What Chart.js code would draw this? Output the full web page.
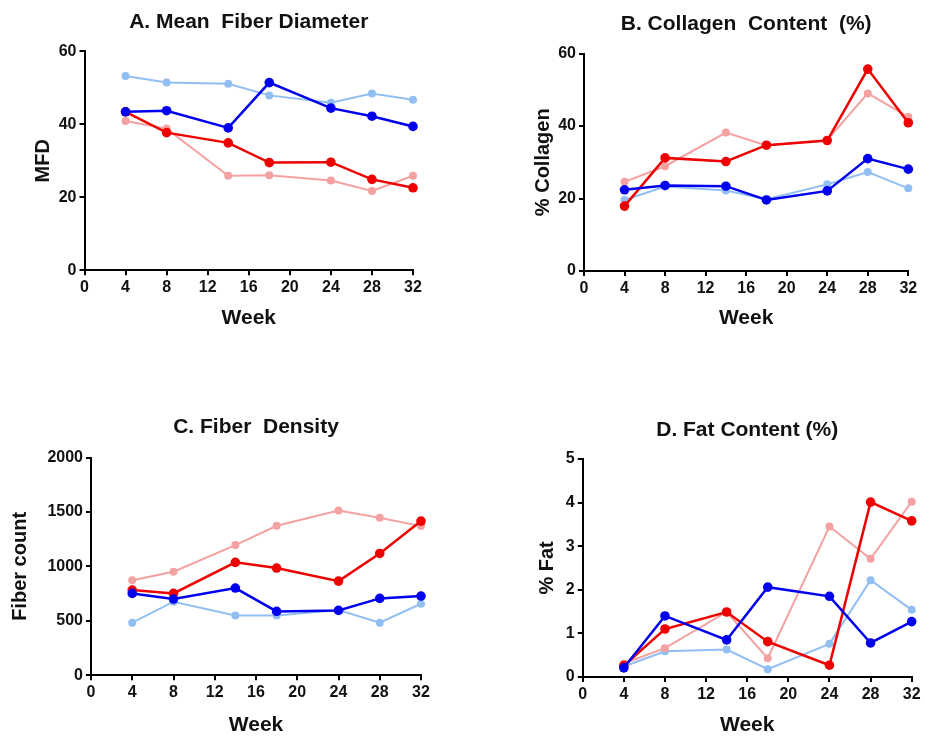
<!DOCTYPE html>
<html>
<head>
<meta charset="utf-8">
<script src="https://cdn.jsdelivr.net/npm/chart.js@4/dist/chart.umd.min.js"></script>
<style>
  html, body { margin: 0; padding: 0; background: #fff; }
  body { width: 925px; height: 739px; position: relative; overflow: hidden; }
  .panel { position: absolute; }
</style>
</head>
<body>
<div class="panel" id="pA" style="left:0px;top:0px;width:460px;height:340px"><canvas id="cA"></canvas></div>
<div class="panel" id="pB" style="left:460px;top:0px;width:465px;height:340px"><canvas id="cB"></canvas></div>
<div class="panel" id="pC" style="left:0px;top:400px;width:460px;height:339px"><canvas id="cC"></canvas></div>
<div class="panel" id="pD" style="left:460px;top:400px;width:465px;height:339px"><canvas id="cD"></canvas></div>

<script>
/* week axis + four groups per panel */
const weeks = [4, 8, 14, 18, 24, 28, 32];
const xTicks = [0, 4, 8, 12, 16, 20, 24, 28, 32];

// A. Mean fiber diameter
const mfdLightBlue = [53.2, 51.4, 51.1, 47.9, 45.9, 48.4, 46.7];
const mfdBlue      = [43.4, 43.7, 39.0, 51.4, 44.4, 42.2, 39.4];
const mfdPink      = [40.9, 38.8, 25.9, 26.0, 24.6, 21.7, 25.9];
const mfdRed       = [43.4, 37.7, 34.9, 29.5, 29.6, 24.9, 22.6];

// B. Collagen content
const colLightBlue = [19.6, 23.3, 22.2, 19.8, 23.9, 27.3, 22.8];
const colBlue      = [22.4, 23.6, 23.4, 19.6, 22.1, 31.0, 28.1];
const colPink      = [24.6, 28.9, 38.2, 34.6, 36.1, 49.0, 42.5];
const colRed       = [17.9, 31.2, 30.2, 34.7, 36.0, 55.7, 40.9];

// C. Fiber density
const denLightBlue = [483, 676, 550, 550, 599, 483, 657];
const denBlue      = [752, 700, 801, 587, 596, 706, 728];
const denPink      = [872, 951, 1196, 1373, 1514, 1446, 1370];
const denRed       = [783, 752, 1037, 985, 865, 1119, 1416];

// D. Fat content
const fatLightBlue = [0.24, 0.59, 0.63, 0.18, 0.76, 2.22, 1.54];
const fatBlue      = [0.21, 1.40, 0.85, 2.06, 1.85, 0.78, 1.27];
const fatPink      = [0.31, 0.66, 1.49, 0.43, 3.45, 2.71, 4.02];
const fatRed       = [0.26, 1.10, 1.49, 0.81, 0.27, 4.01, 3.58];

const COL = {
  lightBlue: "#92bff3",
  blue: "#0000ee",
  pink: "#f4a1a1",
  red: "#ee0000"
};

const FONT = "'Liberation Sans', Arial, Helvetica, sans-serif";

function pts(vals) {
  return weeks.map((w, i) => ({ x: w, y: vals[i] }));
}

function ds(vals, color, strong) {
  return {
    data: pts(vals),
    borderColor: color,
    backgroundColor: color,
    pointBackgroundColor: color,
    pointBorderColor: color,
    borderWidth: strong ? 2.5 : 2,
    pointRadius: strong ? 4.8 : 4,
    pointBorderWidth: 0,
    pointHoverRadius: strong ? 4.8 : 4,
    tension: 0,
    clip: false
  };
}

function makePanel(id, cfg) {
  const axisLine = { display: true, color: "#000", width: 2 };
  const grid = { display: true, drawOnChartArea: false, drawTicks: true, tickLength: 5, color: "#000", lineWidth: 2 };
  const tickFont = { family: FONT, size: 16, weight: "bold" };

  new Chart(document.getElementById(id), {
    type: "line",
    data: {
      // first dataset is drawn on top
      datasets: [
        ds(cfg.blue, COL.blue, true),
        ds(cfg.red, COL.red, true),
        ds(cfg.pink, COL.pink, false),
        ds(cfg.lightBlue, COL.lightBlue, false)
      ]
    },
    options: {
      responsive: true,
      maintainAspectRatio: false,
      animation: false,
      layout: { padding: { left: 0, top: 0, bottom: 0, right: cfg.padR } },
      plugins: {
        legend: { display: false },
        tooltip: { enabled: false },
        title: {
          display: true,
          fullSize: false, // center over the plot, not the canvas
          text: cfg.title,
          color: "#111",
          font: { family: FONT, size: 21, weight: "bold", lineHeight: 1.2 },
          padding: { top: cfg.titleTop, bottom: cfg.titleBottom }
        }
      },
      scales: {
        x: {
          type: "linear",
          min: 0, max: 32,
          afterBuildTicks: s => { s.ticks = xTicks.map(v => ({ value: v })); },
          afterFit: s => { s.height = cfg.xH; },
          border: axisLine,
          grid: grid,
          ticks: { color: "#111", font: tickFont, padding: 3, maxRotation: 0, autoSkip: false },
          title: {
            display: true, text: "Week", color: "#111",
            font: { family: FONT, size: 21, weight: "bold", lineHeight: 1.2 },
            padding: { top: 0, bottom: cfg.weekPad }
          }
        },
        y: {
          type: "linear",
          min: 0, max: cfg.yMax,
          ticks: { stepSize: cfg.yStep, color: "#111", font: tickFont, padding: 3, callback: v => String(v) },
          afterFit: s => { s.width = cfg.yW; },
          border: axisLine,
          grid: grid,
          title: {
            display: true, text: cfg.yTitle, color: "#111",
            font: { family: FONT, size: 20, weight: "bold", lineHeight: 1.2 },
            padding: { top: cfg.yTitlePad, bottom: 0 }
          }
        }
      }
    }
  });
}

makePanel("cA", {
  title: "A. Mean  Fiber Diameter", yTitle: "MFD", yMax: 60, yStep: 20,
  lightBlue: mfdLightBlue, blue: mfdBlue, pink: mfdPink, red: mfdRed,
  padR: 47, titleTop: 10, titleBottom: 16, yW: 84.5, yTitlePad: 31, xH: 69.7, weekPad: 9
});

makePanel("cB", {
  title: "B. Collagen  Content  (%)", yTitle: "% Collagen", yMax: 60, yStep: 20,
  lightBlue: colLightBlue, blue: colBlue, pink: colPink, red: colRed,
  padR: 16.7, titleTop: 12, titleBottom: 16.3, yW: 124, yTitlePad: 71, xH: 69, weekPad: 9
});

makePanel("cC", {
  title: "C. Fiber  Density", yTitle: "Fiber count", yMax: 2000, yStep: 500,
  lightBlue: denLightBlue, blue: denBlue, pink: denPink, red: denRed,
  padR: 39, titleTop: 15, titleBottom: 17.3, yW: 91, yTitlePad: 8, xH: 63.7, weekPad: 1.5
});

makePanel("cD", {
  title: "D. Fat Content (%)", yTitle: "% Fat", yMax: 5, yStep: 1,
  lightBlue: fatLightBlue, blue: fatBlue, pink: fatPink, red: fatRed,
  padR: 13.3, titleTop: 17.5, titleBottom: 16.2, yW: 122.7, yTitlePad: 75, xH: 62, weekPad: 0.8
});
</script>
</body>
</html>
